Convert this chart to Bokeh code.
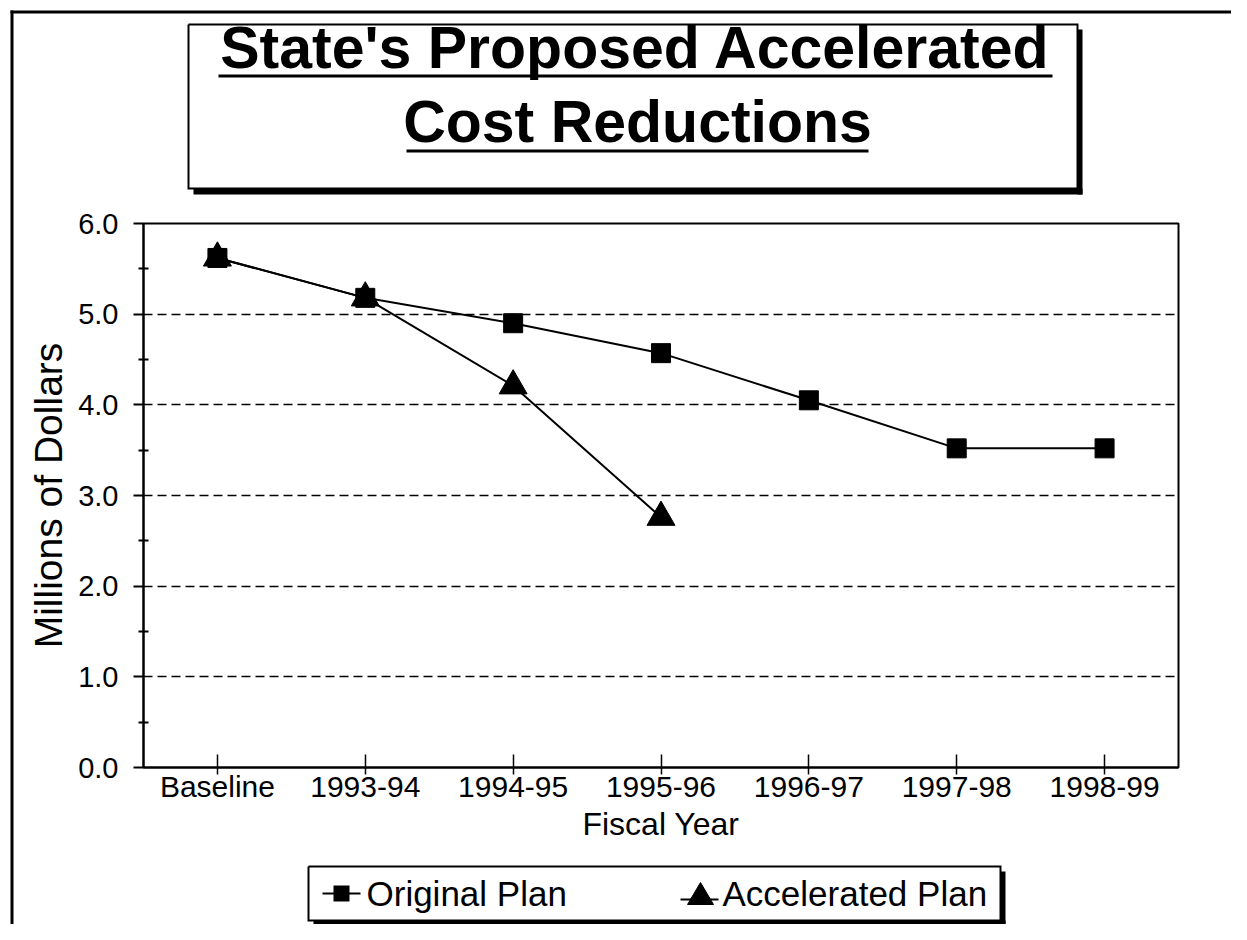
from bokeh.plotting import figure
from bokeh.models import Range1d, FixedTicker, NumeralTickFormatter
from bokeh.core.properties import value
from bokeh.embed import file_html
from bokeh.resources import INLINE

# ---------------- data ----------------
categories = ["Baseline", "1993-94", "1994-95", "1995-96", "1996-97", "1997-98", "1998-99"]
original_plan = [5.62, 5.18, 4.90, 4.57, 4.05, 3.52, 3.52]
accelerated_plan = [5.62, 5.18, 4.21, 2.76]
y_ticks = [0, 1, 2, 3, 4, 5, 6]
y_minor_ticks = [0.5, 1.5, 2.5, 3.5, 4.5, 5.5]
title_lines = ["State's Proposed Accelerated", "Cost Reductions"]
legend_labels = ["Original Plan", "Accelerated Plan"]
x_title = "Fiscal Year"
y_title = "Millions of Dollars"

FONT = "Liberation Sans"

x_pos = list(range(len(categories)))
X0, X1 = -0.5, len(categories) - 0.5
Y0, Y1 = 0, 6

# ---------------- layout (canvas pixels) ----------------
W, H = 1231, 924
FL, FR, FT, FB = 143, 1178, 223, 767

p = figure(width=W, height=H,
           x_range=Range1d(X0, X1), y_range=Range1d(Y0, Y1),
           output_backend="svg", toolbar_location=None,
           min_border_left=FL, min_border_right=W - FR,
           min_border_top=FT, min_border_bottom=H - FB,
           background_fill_color="white", border_fill_color="white",
           outline_line_color="black", outline_line_width=2)


def dx(px):
    """canvas pixel x -> data x (decorations only)"""
    return X0 + (px - FL) / (FR - FL) * (X1 - X0)


def dy(py):
    """canvas pixel y -> data y (decorations only)"""
    return Y0 + (FB - py) / (FB - FT) * (Y1 - Y0)


# ---------------- axes ----------------
ya = p.yaxis[0]
ya.ticker = FixedTicker(ticks=y_ticks, minor_ticks=y_minor_ticks)
ya.formatter = NumeralTickFormatter(format="0.0")
ya.axis_line_color = "black"
ya.axis_line_width = 2
ya.major_tick_in = 0
ya.major_tick_out = 10
ya.major_tick_line_width = 2
ya.major_tick_line_color = "black"
ya.minor_tick_in = 5
ya.minor_tick_out = 5
ya.minor_tick_line_width = 2
ya.minor_tick_line_color = "black"
ya.major_label_text_font = FONT
ya.major_label_text_font_size = "29px"
ya.major_label_text_color = "black"
ya.major_label_standoff = 15
ya.axis_label = y_title
ya.axis_label_text_font = FONT
ya.axis_label_text_font_size = "39px"
ya.axis_label_text_font_style = "normal"
ya.axis_label_text_color = "black"
ya.axis_label_standoff = 5

xa = p.xaxis[0]
xa.ticker = FixedTicker(ticks=x_pos, minor_ticks=[])
xa.major_label_overrides = {i: c for i, c in zip(x_pos, categories)}
xa.axis_line_color = "black"
xa.axis_line_width = 2
xa.major_tick_in = 13
xa.major_tick_out = 7
xa.major_tick_line_width = 1.5
xa.major_tick_line_color = "black"
xa.minor_tick_line_color = None
xa.major_label_text_font = FONT
xa.major_label_text_font_size = "30px"
xa.major_label_text_color = "black"
xa.major_label_standoff = -5
xa.axis_label = x_title
xa.axis_label_text_font = FONT
xa.axis_label_text_font_size = "32px"
xa.axis_label_text_font_style = "normal"
xa.axis_label_text_color = "black"
xa.axis_label_standoff = 0

p.xgrid.visible = False
p.ygrid.grid_line_color = "black"
p.ygrid.grid_line_width = 1.5
p.ygrid.grid_line_dash = "9 5"

# ---------------- data series ----------------
p.line(x=x_pos, y=original_plan, line_color="black", line_width=2)
p.scatter(x=x_pos, y=original_plan, marker="square", size=19,
          fill_color="black", line_color="black")
p.line(x=x_pos[:len(accelerated_plan)], y=accelerated_plan,
       line_color="black", line_width=2)
p.scatter(x=x_pos[:len(accelerated_plan)], y=accelerated_plan, marker="triangle",
          size=28, fill_color="black", line_color="black")


# ---------------- decorations (drawn on the overlay level, outside the frame) ----------------
def seg(pxs, pys, w):
    p.line(x=[dx(v) for v in pxs], y=[dy(v) for v in pys], line_color="black",
           line_width=w, line_join="miter", level="overlay")


def hbar(x0, x1, yc, w):
    seg([x0, x1], [yc, yc], w)


def vbar(xc, y0, y1, w):
    seg([xc, xc], [y0, y1], w)


def frame_box(l, r, t, b, w=2):
    seg([l, r, r, l, l], [t, t, b, b, t], w)


# anchor for texts: a point inside the plot frame, texts shifted in pixels from it
AX, AY = 0, 3
APX = FL + (AX - X0) / (X1 - X0) * (FR - FL)
APY = FB - (AY - Y0) / (Y1 - Y0) * (FB - FT)


def texts(items, size, style="normal", align="left", baseline="middle"):
    p.text(x=[AX] * len(items), y=[AY] * len(items), text=[t for t, _, _ in items],
           x_offset=[px - APX for _, px, _ in items],
           y_offset=[py - APY for _, _, py in items],
           text_font=value(FONT), text_font_size=value(size),
           text_font_style=value(style), text_align=value(align),
           text_baseline=value(baseline), text_color="black", level="overlay")


# page frame lines
hbar(10, W, 11.5, 3)
vbar(11.5, 10, H, 3)

# title box with shadow and underlined title
vbar(1079.5, 29, 194, 5)
hbar(193, 1082, 191, 6)
frame_box(188, 1077, 24, 188)
texts([(title_lines[0], 635, 47), (title_lines[1], 637, 121)],
      "59px", "bold", "center", "middle")
hbar(218, 1052, 75.5, 3)
hbar(406, 868, 150.5, 3)

# legend box with shadow
vbar(1002.5, 871, 925, 5)
hbar(313, 1005, 922.5, 5)
frame_box(308, 1000, 866, 920)
LY = 893
hbar(322, 360, LY, 2)
hbar(333, 349, LY, 16)
hbar(680, 718, LY + 6, 2)
p.patch(x=[dx(687), dx(713), dx(700)], y=[dy(LY + 11), dy(LY + 11), dy(LY - 11)],
        fill_color="black", line_color="black", line_width=1, level="overlay")
texts([(legend_labels[0], 366, LY), (legend_labels[1], 722, LY)], "35px")

open("out.html", "w").write(file_html(p, INLINE))
